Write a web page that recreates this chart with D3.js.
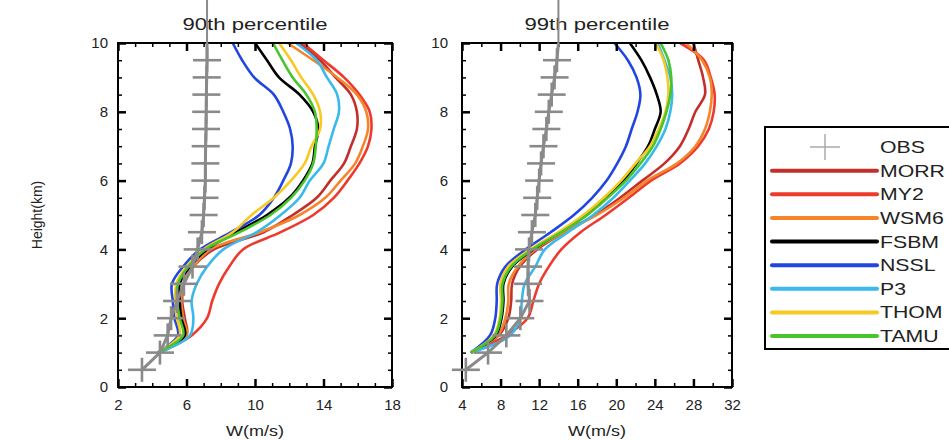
<!DOCTYPE html>
<html>
<head>
<meta charset="utf-8">
<script src="https://cdn.jsdelivr.net/npm/d3@7"></script>
<style>
  body { margin: 0; background: #fff; }
  svg { display: block; font-family: "Liberation Sans", Arial, Helvetica, sans-serif; }
</style>
</head>
<body>
<svg id="chart" width="949" height="440"></svg>
<script>
// Heights (km)
const obsHeights = [0.5, 1, 1.5, 2, 2.5, 3, 3.5, 4, 4.5, 5, 5.5, 6, 6.5, 7, 7.5, 8, 8.5, 9, 9.5, 10];
const modelHeights = [1, 1.5, 2, 2.5, 3, 3.5, 4, 4.5, 5, 5.5, 6, 6.5, 7, 7.5, 8, 8.5, 9, 9.5, 10];

const models = ['MORR', 'MY2', 'WSM6', 'FSBM', 'NSSL', 'P3', 'THOM', 'TAMU'];
const modelColors = ['#c3302b', '#ee3a2c', '#f5842b', '#000000', '#2146e0', '#3ab9ec', '#f8c923', '#46c52d'];

// 90th percentile W (m/s)
const obs90  = [3.4, 4.45, 4.9, 5.1, 5.45, 5.85, 6.35, 6.65, 6.9, 7.0, 7.05, 7.1, 7.1, 7.12, 7.14, 7.15, 7.16, 7.18, 7.2, 7.2];
const morr90 = [4.3, 6.0, 5.9, 5.75, 5.85, 6.4, 7.6, 10.5, 12.2, 13.6, 14.4, 15.2, 15.6, 15.95, 15.95, 15.6, 14.7, 13.8, 12.6];
const my290  = [4.4, 6.3, 7.2, 7.5, 7.9, 8.5, 9.3, 11.5, 13.4, 14.6, 15.4, 16.1, 16.6, 16.8, 16.7, 16.1, 15.2, 14.0, 12.8];
const wsm690 = [4.3, 6.0, 5.8, 5.7, 5.8, 6.4, 7.4, 10.3, 12.6, 14.1, 15.0, 15.85, 16.3, 16.6, 16.5, 15.95, 14.8, 13.4, 11.9];
const fsbm90 = [4.3, 5.9, 5.7, 5.6, 5.6, 6.2, 7.2, 8.9, 10.7, 12.0, 12.8, 13.35, 13.5, 13.7, 13.4, 12.6, 11.4, 10.7, 10.0];
const nssl90 = [4.3, 5.5, 5.3, 5.2, 5.15, 5.8, 6.8, 8.6, 10.25, 11.1, 11.65, 12.1, 12.2, 12.05, 11.65, 11.1, 9.95, 9.25, 8.7];
const p390   = [4.4, 6.2, 6.4, 6.3, 6.6, 7.2, 8.15, 10.1, 11.5, 12.6, 13.2, 14.0, 14.3, 14.6, 14.9, 14.8, 14.2, 13.6, 12.4];
const thom90 = [4.3, 5.6, 5.45, 5.35, 5.4, 6.0, 7.0, 8.7, 9.8, 11.1, 12.1, 12.9, 13.3, 13.8, 13.8, 13.4, 12.7, 12.1, 11.4];
const tamu90 = [4.3, 5.8, 5.6, 5.45, 5.5, 6.1, 7.1, 9.1, 10.9, 12.1, 12.9, 13.4, 13.55, 13.6, 13.5, 13.0, 12.2, 11.6, 11.05];

// 99th percentile W (m/s)
const obs99  = [4.4, 6.7, 8.6, 10.05, 11.0, 10.85, 10.85, 10.95, 11.25, 11.6, 11.8, 12.0, 12.2, 12.45, 12.75, 13.0, 13.3, 13.6, 13.85, 14.0];
const morr99 = [4.9, 7.8, 8.8, 9.1, 9.2, 10.0, 11.8, 14.6, 17.8, 20.4, 22.7, 25.0, 26.6, 27.5, 28.2, 29.2, 29.0, 28.5, 28.0];
const my299  = [5.0, 8.6, 10.8, 11.4, 12.0, 13.0, 14.3, 16.3, 18.9, 21.3, 23.6, 26.6, 28.5, 29.6, 30.1, 30.2, 29.8, 29.1, 26.6];
const wsm699 = [4.9, 7.7, 8.5, 8.8, 8.85, 9.8, 11.6, 14.6, 18.0, 20.8, 23.2, 26.3, 28.2, 29.2, 29.7, 29.9, 29.7, 28.9, 27.2];
const fsbm99 = [4.9, 7.5, 8.1, 8.3, 8.3, 9.2, 11.4, 14.2, 16.9, 18.9, 20.7, 22.1, 23.3, 24.0, 24.6, 24.2, 23.5, 22.6, 21.4];
const nssl99 = [4.9, 6.9, 7.45, 7.6, 7.65, 8.5, 10.6, 13.2, 15.6, 17.5, 19.0, 20.1, 21.0, 21.6, 22.2, 22.5, 22.1, 21.2, 19.8];
const p399   = [5.0, 9.0, 10.05, 10.2, 10.5, 11.6, 12.6, 15.0, 17.6, 19.7, 21.4, 23.0, 24.2, 25.1, 25.6, 25.8, 25.6, 25.0, 24.3];
const thom99 = [4.9, 7.3, 7.9, 8.05, 8.0, 8.8, 11.1, 14.0, 16.6, 18.7, 20.5, 22.0, 23.5, 24.4, 25.1, 25.4, 25.3, 24.9, 24.1];
const tamu99 = [4.9, 7.4, 8.0, 8.2, 8.2, 9.1, 11.3, 14.3, 17.0, 19.1, 21.0, 22.5, 23.8, 24.6, 25.2, 25.6, 25.7, 25.4, 24.6];

// Axis ticks
const heightTicks = [0, 2, 4, 6, 8, 10];
const heightMinor = [0.5, 1, 1.5, 2.5, 3, 3.5, 4.5, 5, 5.5, 6.5, 7, 7.5, 8.5, 9, 9.5];
const wTicks90 = [2, 6, 10, 14, 18];
const wMinor90 = [3, 4, 5, 7, 8, 9, 11, 12, 13, 15, 16, 17];
const wTicks99 = [4, 8, 12, 16, 20, 24, 28, 32];
const wMinor99 = [6, 10, 14, 18, 22, 26, 30];

const panels = [
  { title: '90th percentile', domain: [2, 18], left: 118, right: 392, labelGap: 10,
    ticks: wTicks90, minor: wMinor90, obs: obs90,
    series: [morr90, my290, wsm690, fsbm90, nssl90, p390, thom90, tamu90] },
  { title: '99th percentile', domain: [4, 32], left: 462, right: 732, labelGap: 14,
    ticks: wTicks99, minor: wMinor99, obs: obs99,
    series: [morr99, my299, wsm699, fsbm99, nssl99, p399, thom99, tamu99] }
];

const svg = d3.select('#chart');
const plotTop = 43, plotBottom = 387;
const y = d3.scaleLinear().domain([0, 10]).range([plotBottom, plotTop]);
const obsColor = '#8a8a8a';

// stretch text horizontally (the source figure is widened)
function stretch(sel, k) {
  sel.each(function() {
    const w = this.getComputedTextLength();
    d3.select(this).attr('textLength', w * k).attr('lengthAdjust', 'spacingAndGlyphs');
  });
}

function styleAxis(g) {
  g.select('.domain').remove();
  g.selectAll('.tick line').attr('stroke', '#000');
  g.selectAll('text').attr('fill', '#222').style('font-size', '15px')
    .style('font-family', '"Liberation Sans", Arial, sans-serif');
}

panels.forEach(p => {
  const x = d3.scaleLinear().domain(p.domain).range([p.left, p.right]);
  const g = svg.append('g');

  // model curves
  const line = d3.line()
    .x(d => x(d[0]))
    .y(d => y(d[1]))
    .curve(d3.curveCatmullRom.alpha(0.5));

  p.series.forEach((vals, i) => {
    g.append('path')
      .attr('d', line(vals.map((v, j) => [v, modelHeights[j]])))
      .attr('fill', 'none')
      .attr('stroke', modelColors[i])
      .attr('stroke-width', 2.6)
      .attr('stroke-linejoin', 'round');
  });

  // frame
  g.append('rect')
    .attr('x', p.left).attr('y', plotTop)
    .attr('width', p.right - p.left).attr('height', plotBottom - plotTop)
    .attr('fill', 'none').attr('stroke', '#000').attr('stroke-width', 2);

  // major + minor ticks on all four sides, pointing inward
  const bottomAx = g.append('g').attr('transform', `translate(0,${plotBottom})`)
    .call(d3.axisBottom(x).tickValues(p.ticks).tickSizeInner(-8).tickSizeOuter(0).tickPadding(12));
  styleAxis(bottomAx);
  bottomAx.selectAll('.tick line').attr('stroke-width', 2.5);

  const bottomMinor = g.append('g').attr('transform', `translate(0,${plotBottom})`)
    .call(d3.axisBottom(x).tickValues(p.minor).tickSizeInner(-4).tickSizeOuter(0).tickFormat(''));
  styleAxis(bottomMinor);
  bottomMinor.selectAll('.tick line').attr('stroke-width', 1.5);

  const topAx = g.append('g').attr('transform', `translate(0,${plotTop})`)
    .call(d3.axisTop(x).tickValues(p.ticks).tickSizeInner(-8).tickSizeOuter(0).tickFormat(''));
  styleAxis(topAx);
  topAx.selectAll('.tick line').attr('stroke-width', 2.5);

  const topMinor = g.append('g').attr('transform', `translate(0,${plotTop})`)
    .call(d3.axisTop(x).tickValues(p.minor).tickSizeInner(-4).tickSizeOuter(0).tickFormat(''));
  styleAxis(topMinor);
  topMinor.selectAll('.tick line').attr('stroke-width', 1.5);

  const leftAx = g.append('g').attr('transform', `translate(${p.left},0)`)
    .call(d3.axisLeft(y).tickValues(heightTicks).tickSizeInner(-8).tickSizeOuter(0).tickPadding(p.labelGap));
  styleAxis(leftAx);
  leftAx.selectAll('.tick line').attr('stroke-width', 2.5);

  const leftMinor = g.append('g').attr('transform', `translate(${p.left},0)`)
    .call(d3.axisLeft(y).tickValues(heightMinor).tickSizeInner(-4).tickSizeOuter(0).tickFormat(''));
  styleAxis(leftMinor);
  leftMinor.selectAll('.tick line').attr('stroke-width', 1.5);

  const rightAx = g.append('g').attr('transform', `translate(${p.right},0)`)
    .call(d3.axisRight(y).tickValues(heightTicks).tickSizeInner(-8).tickSizeOuter(0).tickFormat(''));
  styleAxis(rightAx);
  rightAx.selectAll('.tick line').attr('stroke-width', 2.5);

  const rightMinor = g.append('g').attr('transform', `translate(${p.right},0)`)
    .call(d3.axisRight(y).tickValues(heightMinor).tickSizeInner(-4).tickSizeOuter(0).tickFormat(''));
  styleAxis(rightMinor);
  rightMinor.selectAll('.tick line').attr('stroke-width', 1.5);

  // titles and x label
  const cx = (p.left + p.right) / 2;
  g.append('text')
    .attr('x', cx).attr('y', 30)
    .attr('text-anchor', 'middle')
    .attr('fill', '#222')
    .style('font-size', '17px')
    .text(p.title)
    .call(stretch, 1.3);

  g.append('text')
    .attr('x', cx).attr('y', 436)
    .attr('text-anchor', 'middle')
    .attr('fill', '#222')
    .style('font-size', '15px')
    .text('W(m/s)')
    .call(stretch, 1.2);

  // OBS profile: line, upward extension, crosses
  const obsPts = p.obs.map((v, j) => [v, obsHeights[j]]);
  g.append('path')
    .attr('d', d3.line().x(d => x(d[0])).y(d => y(d[1]))(obsPts))
    .attr('fill', 'none')
    .attr('stroke', obsColor)
    .attr('stroke-width', 3);

  const last = obsPts[obsPts.length - 1];
  g.append('line')
    .attr('x1', x(last[0])).attr('x2', x(last[0]))
    .attr('y1', y(last[1])).attr('y2', 0)
    .attr('stroke', obsColor).attr('stroke-width', 2);

  const crosses = g.append('g').selectAll('g')
    .data(obsPts.filter(d => d[1] < 10))
    .join('g')
    .attr('transform', d => `translate(${x(d[0])},${y(d[1])})`);
  crosses.append('line')
    .attr('x1', -14).attr('x2', 14)
    .attr('stroke', obsColor).attr('stroke-width', 2.6);
  crosses.append('line')
    .attr('y1', -12).attr('y2', 12)
    .attr('stroke', obsColor).attr('stroke-width', 2.6);
});

// y-axis title
svg.append('text')
  .attr('transform', 'translate(42,215) rotate(-90)')
  .attr('text-anchor', 'middle')
  .attr('fill', '#222')
  .style('font-size', '14px')
  .text('Height(km)');

// legend
const legend = svg.append('g');
legend.append('rect')
  .attr('x', 765).attr('y', 127)
  .attr('width', 192).attr('height', 222)
  .attr('fill', '#fff').attr('stroke', '#000').attr('stroke-width', 2);

const legendNames = ['OBS'].concat(models);
const legendY = d3.scalePoint().domain(legendNames).range([147, 336]);

const obsKey = legend.append('g')
  .attr('transform', `translate(825,${legendY('OBS')})`);
obsKey.append('line').attr('x1', -15).attr('x2', 15)
  .attr('stroke', '#aaa').attr('stroke-width', 1.5);
obsKey.append('line').attr('y1', -13).attr('y2', 13)
  .attr('stroke', '#aaa').attr('stroke-width', 1.5);

legend.selectAll('line.key')
  .data(models)
  .join('line')
  .attr('class', 'key')
  .attr('x1', 772).attr('x2', 877)
  .attr('y1', d => legendY(d)).attr('y2', d => legendY(d))
  .attr('stroke', (d, i) => modelColors[i])
  .attr('stroke-width', 4)
  .attr('stroke-linecap', 'round');

legend.selectAll('text')
  .data(legendNames)
  .join('text')
  .attr('x', 880)
  .attr('y', d => legendY(d))
  .attr('dy', '0.36em')
  .attr('fill', '#222')
  .style('font-size', '17px')
  .text(d => d)
  .call(stretch, 1.25);
</script>
</body>
</html>
